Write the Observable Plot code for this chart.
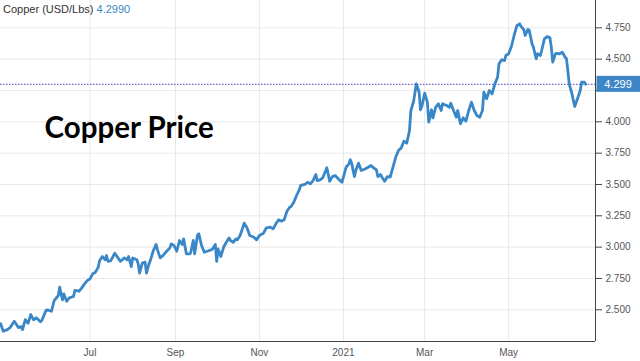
<!DOCTYPE html>
<html><head><meta charset="utf-8">
<script src="https://cdn.jsdelivr.net/npm/d3@7"></script>
<script src="https://cdn.jsdelivr.net/npm/@observablehq/plot@0.6"></script>
<style>
body{margin:0;background:#fff;}
#wrap{position:relative;width:640px;height:361px;overflow:hidden;background:#fff;}
#hdr{position:absolute;left:3px;top:3px;font:11px "Liberation Sans",Arial,sans-serif;color:#333;white-space:nowrap;}
#hdr span{color:#3d85c6;}
</style></head><body><div id="wrap"></div>
<script>
const seriesName = "Copper (USD/Lbs)";
const lastQuote = "4.2990";
const title = "Copper Price";
const lastPrice = 4.299;
const yTicks = [2.5, 2.75, 3.0, 3.25, 3.5, 3.75, 4.0, 4.25, 4.5, 4.75];
const xTicks = ["2020-07-01", "2020-09-01", "2020-11-01", "2021-01-01", "2021-03-01", "2021-05-01"];
const xTickLabels = ["Jul", "Sep", "Nov", "2021", "Mar", "May"];
const dates = [
"2020-04-27","2020-04-29","2020-05-02","2020-05-04","2020-05-07","2020-05-10","2020-05-12","2020-05-13","2020-05-15","2020-05-17",
"2020-05-19","2020-05-21","2020-05-23","2020-05-26","2020-05-27","2020-05-30","2020-05-31","2020-06-03","2020-06-05","2020-06-08",
"2020-06-09","2020-06-11","2020-06-12","2020-06-14","2020-06-16","2020-06-19","2020-06-20","2020-06-23","2020-06-25","2020-06-27",
"2020-06-29","2020-07-01","2020-07-03","2020-07-05","2020-07-07","2020-07-08","2020-07-10","2020-07-12","2020-07-13","2020-07-14",
"2020-07-16","2020-07-19","2020-07-21","2020-07-23","2020-07-26","2020-07-28","2020-07-29","2020-07-31","2020-08-01","2020-08-04",
"2020-08-05","2020-08-06","2020-08-08","2020-08-10","2020-08-11","2020-08-13","2020-08-14","2020-08-16","2020-08-18","2020-08-19",
"2020-08-21","2020-08-23","2020-08-25","2020-08-28","2020-08-29","2020-08-31","2020-09-02","2020-09-04","2020-09-06","2020-09-07",
"2020-09-09","2020-09-11","2020-09-12","2020-09-14","2020-09-15","2020-09-17","2020-09-18","2020-09-20","2020-09-22","2020-09-24",
"2020-09-27","2020-09-28","2020-09-30","2020-10-01","2020-10-02","2020-10-04","2020-10-06","2020-10-08","2020-10-10","2020-10-11",
"2020-10-13","2020-10-15","2020-10-16","2020-10-18","2020-10-21","2020-10-23","2020-10-25","2020-10-28","2020-10-30","2020-11-01",
"2020-11-04","2020-11-06","2020-11-09","2020-11-11","2020-11-13","2020-11-15","2020-11-17","2020-11-19","2020-11-21","2020-11-23",
"2020-11-24","2020-11-26","2020-11-28","2020-11-30","2020-12-01","2020-12-04","2020-12-06","2020-12-08","2020-12-10","2020-12-12",
"2020-12-13","2020-12-15","2020-12-17","2020-12-20","2020-12-22","2020-12-24","2020-12-26","2020-12-29","2020-12-31","2021-01-03",
"2021-01-05","2021-01-06","2021-01-07","2021-01-09","2021-01-10","2021-01-12","2021-01-14","2021-01-17","2021-01-19","2021-01-21",
"2021-01-23","2021-01-25","2021-01-26","2021-01-28","2021-01-29","2021-01-31","2021-02-02","2021-02-04","2021-02-06","2021-02-08",
"2021-02-10","2021-02-12","2021-02-14","2021-02-16","2021-02-18","2021-02-19","2021-02-21","2021-02-23","2021-02-25","2021-02-26",
"2021-02-27","2021-03-01","2021-03-03","2021-03-04","2021-03-06","2021-03-07","2021-03-09","2021-03-11","2021-03-13","2021-03-14",
"2021-03-17","2021-03-19","2021-03-20","2021-03-22","2021-03-24","2021-03-25","2021-03-27","2021-03-29","2021-03-31","2021-04-02",
"2021-04-04","2021-04-06","2021-04-08","2021-04-10","2021-04-12","2021-04-13","2021-04-15","2021-04-17","2021-04-19","2021-04-21",
"2021-04-23","2021-04-24","2021-04-26","2021-04-28","2021-04-29","2021-05-01","2021-05-03","2021-05-05","2021-05-07","2021-05-09",
"2021-05-10","2021-05-12","2021-05-13","2021-05-15","2021-05-16","2021-05-18","2021-05-19","2021-05-21","2021-05-22","2021-05-24",
"2021-05-25","2021-05-27","2021-05-29","2021-05-31","2021-06-01","2021-06-02","2021-06-04","2021-06-05","2021-06-07","2021-06-09",
"2021-06-11","2021-06-12","2021-06-13","2021-06-14","2021-06-16","2021-06-18","2021-06-20","2021-06-22","2021-06-23","2021-06-25",
"2021-06-26"];
const prices = [
2.390,2.329,2.342,2.358,2.408,2.358,2.366,2.342,2.422,2.393,
2.462,2.420,2.436,2.404,2.414,2.494,2.500,2.488,2.574,2.614,
2.680,2.579,2.627,2.568,2.595,2.606,2.654,2.648,2.675,2.707,
2.733,2.747,2.787,2.800,2.840,2.893,2.925,2.899,2.933,2.887,
2.890,2.951,2.919,2.887,2.914,2.899,2.925,2.845,2.914,2.899,
2.867,2.792,2.872,2.880,2.792,2.872,2.899,2.973,3.021,2.978,
2.914,2.933,2.959,2.994,3.026,3.013,2.967,3.053,3.021,3.066,
2.946,2.946,2.951,3.053,2.946,3.093,3.106,3.013,2.959,2.967,
2.978,2.986,3.021,2.887,2.986,2.925,2.999,3.039,3.074,3.053,
3.039,3.066,3.058,3.093,3.191,3.154,3.093,3.079,3.058,3.093,
3.111,3.154,3.159,3.146,3.186,3.218,3.207,3.218,3.286,3.318,
3.324,3.358,3.412,3.457,3.492,3.500,3.518,3.505,3.531,3.579,
3.531,3.537,3.553,3.633,3.526,3.563,3.571,3.537,3.518,3.638,
3.665,3.697,3.670,3.563,3.611,3.670,3.611,3.625,3.638,3.651,
3.633,3.617,3.563,3.579,3.558,3.526,3.563,3.558,3.638,3.717,
3.771,3.792,3.845,3.829,3.930,4.090,4.164,4.303,4.236,4.096,
4.122,4.228,4.156,3.997,4.096,4.032,4.116,4.144,4.090,4.144,
4.130,4.116,4.148,4.090,4.037,4.090,3.984,4.032,4.005,4.090,
4.156,4.090,4.050,4.037,4.090,4.236,4.184,4.250,4.223,4.303,
4.356,4.463,4.495,4.489,4.529,4.543,4.601,4.689,4.768,4.782,
4.760,4.737,4.689,4.737,4.729,4.622,4.595,4.503,4.543,4.529,
4.569,4.662,4.681,4.670,4.595,4.476,4.543,4.547,4.543,4.555,
4.515,4.503,4.409,4.303,4.223,4.122,4.184,4.250,4.316,4.316,
4.299];

const data = dates.map((d, i) => ({date: new Date(d), price: prices[i]}));
const xTickDates = xTicks.map(d => new Date(d));
const xDomain = [new Date("2020-04-27T00:00Z"), new Date("2021-07-03T02:00Z")];
const yDomain = [2.247, 4.968];
const font = "'Liberation Sans', Arial, sans-serif";
const fmt = d3.format(".3f");

const plot = Plot.plot({
  width: 640, height: 361,
  marginLeft: 0, marginRight: 45, marginTop: 0, marginBottom: 20,
  style: {fontFamily: font, fontSize: "10px", background: "#fff", overflow: "visible"},
  x: {type: "utc", domain: xDomain, label: null},
  y: {domain: yDomain, label: null},
  marks: [
    Plot.gridX(xTickDates, {stroke: "#e8e8e8", strokeOpacity: 1}),
    Plot.gridY(yTicks, {stroke: "#e8e8e8", strokeOpacity: 1}),
    Plot.ruleY([lastPrice], {stroke: "#4a3fc4", strokeWidth: 1, strokeDasharray: "1.5,1.5"}),
    Plot.lineY(data, {x: "date", y: "price", stroke: "#3a87c8", strokeWidth: 2.8, strokeLinejoin: "round", curve: "linear"}),
    Plot.ruleX([xDomain[1]], {stroke: "#444", strokeWidth: 1}),
    Plot.ruleY([yDomain[0]], {stroke: "#444", strokeWidth: 1}),
    Plot.axisY(yTicks, {anchor: "right", label: null, tickFormat: d => (Math.abs(d - lastPrice) < 0.1 ? "" : fmt(d)), tickSize: 6, tickPadding: 4, fontSize: 10, color: "#555", stroke: "#444"}),
    Plot.axisX(xTickDates, {anchor: "bottom", label: null, tickFormat: (d, i) => xTickLabels[i], tickSize: 0, tickPadding: 7, fontSize: 10, color: "#555"}),
    Plot.text([title], {frameAnchor: "top-left", dx: 44, dy: 117, text: d => d, textAnchor: "start", lineAnchor: "top", fontSize: 29.5, fontWeight: "bold", fontFamily: "Lato", fill: "#000"})
  ]
});

// price tag on the right axis, positioned with the plot's y scale
const yy = plot.scale("y").apply(lastPrice);
const svg = d3.select(plot);
svg.append("rect").attr("x", 596.5).attr("y", yy - 8).attr("width", 44).attr("height", 16).attr("fill", "#3d85c6");
svg.append("text").attr("x", 618).attr("y", yy).attr("dy", "0.35em").attr("text-anchor", "middle")
  .attr("fill", "#fff").attr("font-size", 11).attr("font-family", font).text(lastPrice.toFixed(3));

const wrap = document.getElementById("wrap");
wrap.appendChild(plot);
const hdr = document.createElement("div");
hdr.id = "hdr";
hdr.innerHTML = seriesName + " <span>" + lastQuote + "</span>";
wrap.appendChild(hdr);
</script></body></html>
